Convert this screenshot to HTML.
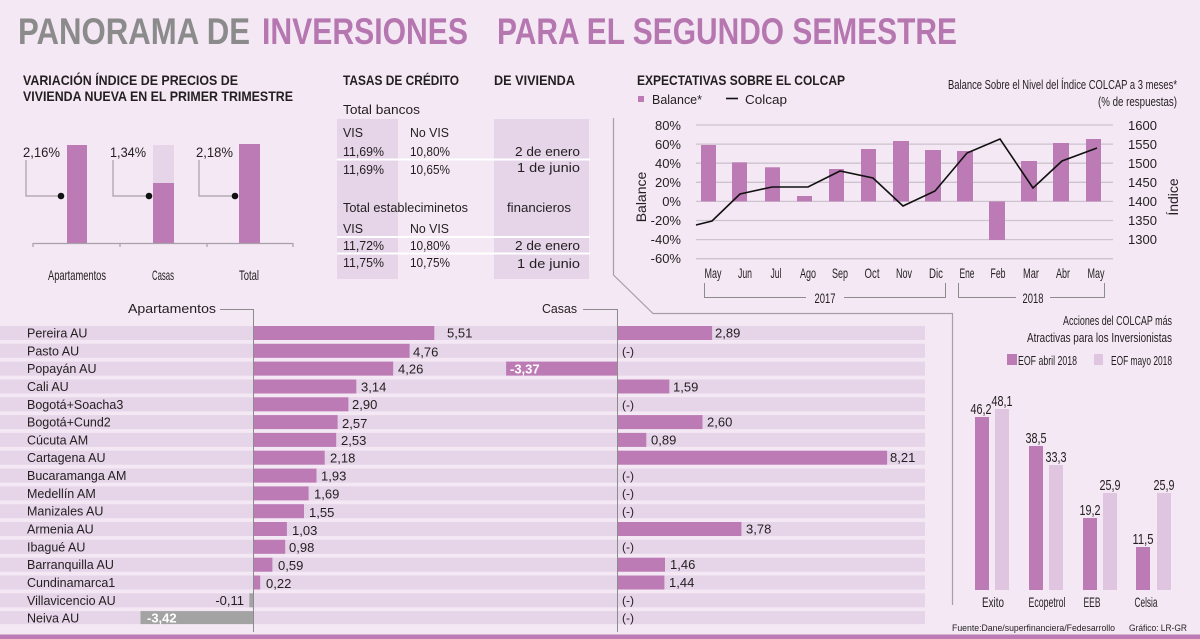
<!DOCTYPE html>
<html lang="es">
<head>
<meta charset="utf-8">
<title>Panorama de inversiones para el segundo semestre</title>
<style>
  html,body{margin:0;padding:0;background:#f3e8f4;}
  svg{display:block;}
  text{font-family:"Liberation Sans",Arial,sans-serif;fill:#231f20;}
  .b{font-weight:bold;}
</style>
</head>
<body>
<svg width="1200" height="639" viewBox="0 0 1200 639" xmlns="http://www.w3.org/2000/svg">
  <rect x="0" y="0" width="1200" height="639" fill="#f3e8f4"/>

  <!-- TITLE -->
  <text x="18" y="44" font-size="37" class="b" style="fill:#8b8b8b" textLength="232" lengthAdjust="spacingAndGlyphs">PANORAMA DE</text>
  <text x="262" y="44" font-size="37" class="b" style="fill:#b677b1" textLength="206" lengthAdjust="spacingAndGlyphs">INVERSIONES</text>
  <text x="497" y="44" font-size="37" class="b" style="fill:#b677b1" textLength="460" lengthAdjust="spacingAndGlyphs">PARA EL SEGUNDO SEMESTRE</text>

  <!-- SECTION 1: Variación índice -->
  <text x="23" y="85" font-size="14" class="b" textLength="215" lengthAdjust="spacingAndGlyphs">VARIACIÓN ÍNDICE DE PRECIOS DE</text>
  <text x="23" y="101" font-size="14" class="b" textLength="270" lengthAdjust="spacingAndGlyphs">VIVIENDA NUEVA EN EL PRIMER TRIMESTRE</text>

  <rect x="67" y="145" width="20" height="99" fill="#bc7bb5"/>
  <rect x="153" y="145" width="21" height="99" fill="#e6d4e8"/>
  <rect x="153" y="183" width="21" height="61" fill="#bc7bb5"/>
  <rect x="239" y="144" width="21" height="100" fill="#bc7bb5"/>
  <g stroke="#a8a0a8" stroke-width="1.2" fill="none">
    <path d="M33,243.5 H293"/>
    <path d="M33,243 V247 M120,243 V247 M207,243 V247 M293,243 V247"/>
    <path d="M26,160 V196 H61"/>
    <path d="M113,160 V196 H149"/>
    <path d="M199,160 V196 H235"/>
  </g>
  <circle cx="61" cy="196" r="3.3" fill="#111"/>
  <circle cx="149" cy="196" r="3.3" fill="#111"/>
  <circle cx="235" cy="196" r="3.3" fill="#111"/>
  <text x="23" y="157" font-size="14" textLength="37" lengthAdjust="spacingAndGlyphs">2,16%</text>
  <text x="110" y="157" font-size="14" textLength="36" lengthAdjust="spacingAndGlyphs">1,34%</text>
  <text x="196" y="157" font-size="14" textLength="37" lengthAdjust="spacingAndGlyphs">2,18%</text>
  <text x="48" y="280" font-size="14" textLength="58" lengthAdjust="spacingAndGlyphs">Apartamentos</text>
  <text x="152" y="280" font-size="14" textLength="22" lengthAdjust="spacingAndGlyphs">Casas</text>
  <text x="239" y="280" font-size="14" textLength="20" lengthAdjust="spacingAndGlyphs">Total</text>

  <!-- SECTION 2: Tasas de crédito -->
  <text x="343" y="85" font-size="14" class="b" textLength="116" lengthAdjust="spacingAndGlyphs">TASAS DE CRÉDITO</text>
  <text x="494" y="85" font-size="14" class="b" textLength="81" lengthAdjust="spacingAndGlyphs">DE VIVIENDA</text>
  <text x="343" y="114" font-size="13" textLength="77" lengthAdjust="spacingAndGlyphs">Total bancos</text>
  <rect x="337" y="119" width="61" height="160" fill="#e6d4e8"/>
  <rect x="494" y="119" width="95" height="160" fill="#e6d4e8"/>
  <g font-size="13">
    <text x="343" y="137" textLength="20" lengthAdjust="spacingAndGlyphs">VIS</text>
    <text x="410" y="137" textLength="39" lengthAdjust="spacingAndGlyphs">No VIS</text>
    <text x="343" y="156" textLength="41" lengthAdjust="spacingAndGlyphs">11,69%</text>
    <text x="410" y="156" textLength="40" lengthAdjust="spacingAndGlyphs">10,80%</text>
    <text x="515" y="156" textLength="65" lengthAdjust="spacingAndGlyphs">2 de enero</text>
    <text x="343" y="174" textLength="41" lengthAdjust="spacingAndGlyphs">11,69%</text>
    <text x="410" y="174" textLength="40" lengthAdjust="spacingAndGlyphs">10,65%</text>
    <text x="517" y="172" textLength="63" lengthAdjust="spacingAndGlyphs">1 de junio</text>
    <text x="343" y="212" textLength="125" lengthAdjust="spacingAndGlyphs">Total estableciminetos</text>
    <text x="507" y="212" textLength="64" lengthAdjust="spacingAndGlyphs">financieros</text>
    <text x="343" y="233" textLength="20" lengthAdjust="spacingAndGlyphs">VIS</text>
    <text x="410" y="233" textLength="39" lengthAdjust="spacingAndGlyphs">No VIS</text>
    <text x="343" y="250" textLength="41" lengthAdjust="spacingAndGlyphs">11,72%</text>
    <text x="410" y="250" textLength="40" lengthAdjust="spacingAndGlyphs">10,80%</text>
    <text x="515" y="250" textLength="65" lengthAdjust="spacingAndGlyphs">2 de enero</text>
    <text x="343" y="267" textLength="41" lengthAdjust="spacingAndGlyphs">11,75%</text>
    <text x="410" y="267" textLength="40" lengthAdjust="spacingAndGlyphs">10,75%</text>
    <text x="517" y="268" textLength="63" lengthAdjust="spacingAndGlyphs">1 de junio</text>
  </g>
  <g stroke="#ffffff" stroke-width="2">
    <path d="M337,159.5 H590"/>
    <path d="M337,237 H590"/>
    <path d="M337,253.5 H590"/>
  </g>

  <!-- SECTION 3: COLCAP -->
  <text x="637" y="85" font-size="14" class="b" textLength="208" lengthAdjust="spacingAndGlyphs">EXPECTATIVAS SOBRE EL COLCAP</text>
  <rect x="638" y="96" width="6" height="6" fill="#bc7bb5"/>
  <text x="652" y="104" font-size="13" textLength="50" lengthAdjust="spacingAndGlyphs">Balance*</text>
  <path d="M726,98.5 H738" stroke="#111" stroke-width="1.6"/>
  <text x="745" y="104" font-size="13" textLength="42" lengthAdjust="spacingAndGlyphs">Colcap</text>
  <text x="948" y="89" font-size="13" textLength="229" lengthAdjust="spacingAndGlyphs">Balance Sobre el Nivel del Índice COLCAP a 3 meses*</text>
  <text x="1098" y="106" font-size="13" textLength="79" lengthAdjust="spacingAndGlyphs">(% de respuestas)</text>

  <!-- gridlines -->
  <g stroke="#cdc3ce" stroke-width="1.3">
    <path d="M696,125 H1113"/>
    <path d="M696,144.1 H1113"/>
    <path d="M696,163.2 H1113"/>
    <path d="M696,182.3 H1113"/>
    <path d="M696,201.4 H1113"/>
    <path d="M696,220.5 H1113"/>
    <path d="M696,239.6 H1113"/>
    <path d="M696,258.7 H1113"/>
  </g>
  <g font-size="13" text-anchor="end">
    <text x="681" y="130">80%</text>
    <text x="681" y="149">60%</text>
    <text x="681" y="168">40%</text>
    <text x="681" y="187">20%</text>
    <text x="681" y="206">0%</text>
    <text x="681" y="225">-20%</text>
    <text x="681" y="244">-40%</text>
    <text x="681" y="263">-60%</text>
  </g>
  <g font-size="13">
    <text x="1128" y="130">1600</text>
    <text x="1128" y="149">1550</text>
    <text x="1128" y="168">1500</text>
    <text x="1128" y="187">1450</text>
    <text x="1128" y="206">1400</text>
    <text x="1128" y="225">1350</text>
    <text x="1128" y="244">1300</text>
  </g>
  <text transform="translate(646,197) rotate(-90)" font-size="14" text-anchor="middle">Balance</text>
  <text transform="translate(1178,197) rotate(-90)" font-size="14" text-anchor="middle">Índice</text>

  <!-- balance bars -->
  <g fill="#bc7bb5">
    <rect x="701" y="145" width="15" height="56.4"/>
    <rect x="732" y="162.3" width="15" height="39.1"/>
    <rect x="765" y="167.3" width="15" height="34.1"/>
    <rect x="797" y="196" width="15" height="5.4"/>
    <rect x="829" y="169" width="15" height="32.4"/>
    <rect x="861" y="149" width="15" height="52.4"/>
    <rect x="893" y="141" width="16" height="60.4"/>
    <rect x="925" y="150" width="16" height="51.4"/>
    <rect x="957" y="151" width="16" height="50.4"/>
    <rect x="989" y="201.4" width="16" height="38.6"/>
    <rect x="1021" y="161" width="16" height="40.4"/>
    <rect x="1053" y="143" width="16" height="58.4"/>
    <rect x="1086" y="139" width="15" height="62.4"/>
  </g>
  <!-- colcap line -->
  <polyline points="696,225 712,221 740,194 772,187 808,187 840,171 873,178 903,206 935,191 967,153 1000,139 1033,188 1062,161 1097,148" fill="none" stroke="#111" stroke-width="1.6" stroke-linejoin="miter"/>

  <!-- month labels -->
  <g font-size="14" text-anchor="middle">
    <text x="713" y="278" textLength="17" lengthAdjust="spacingAndGlyphs">May</text>
    <text x="745" y="278" textLength="14" lengthAdjust="spacingAndGlyphs">Jun</text>
    <text x="776" y="278" textLength="11" lengthAdjust="spacingAndGlyphs">Jul</text>
    <text x="808" y="278" textLength="16" lengthAdjust="spacingAndGlyphs">Ago</text>
    <text x="840" y="278" textLength="16" lengthAdjust="spacingAndGlyphs">Sep</text>
    <text x="872" y="278" textLength="15" lengthAdjust="spacingAndGlyphs">Oct</text>
    <text x="904" y="278" textLength="16" lengthAdjust="spacingAndGlyphs">Nov</text>
    <text x="936" y="278" textLength="14" lengthAdjust="spacingAndGlyphs">Dic</text>
    <text x="967" y="278" textLength="15" lengthAdjust="spacingAndGlyphs">Ene</text>
    <text x="998" y="278" textLength="15" lengthAdjust="spacingAndGlyphs">Feb</text>
    <text x="1031" y="278" textLength="16" lengthAdjust="spacingAndGlyphs">Mar</text>
    <text x="1063" y="278" textLength="14" lengthAdjust="spacingAndGlyphs">Abr</text>
    <text x="1096" y="278" textLength="17" lengthAdjust="spacingAndGlyphs">May</text>
  </g>
  <g stroke="#8c8c8c" stroke-width="1" fill="none">
    <path d="M704.5,283 V297.5 H806 M844,297.5 H945.5 V283"/>
    <path d="M958.5,283 V297.5 H1016 M1050,297.5 H1104.5 V283"/>
  </g>
  <text x="825" y="303" font-size="14" text-anchor="middle" textLength="21" lengthAdjust="spacingAndGlyphs">2017</text>
  <text x="1033" y="303" font-size="14" text-anchor="middle" textLength="21" lengthAdjust="spacingAndGlyphs">2018</text>

  <!-- frame line -->
  <path d="M613.5,118 V275 L653,313.5 H952.5 V605" fill="none" stroke="#a6a0a6" stroke-width="1.2"/>

  <!-- SECTION 4: city bars -->
  <g fill="#e6d4e8">
    <rect x="0" y="326" width="925" height="14"/>
    <rect x="0" y="343.8" width="925" height="14"/>
    <rect x="0" y="361.6" width="925" height="14"/>
    <rect x="0" y="379.5" width="925" height="14"/>
    <rect x="0" y="397.3" width="925" height="14"/>
    <rect x="0" y="415.1" width="925" height="14"/>
    <rect x="0" y="432.9" width="925" height="14"/>
    <rect x="0" y="450.7" width="925" height="14"/>
    <rect x="0" y="468.6" width="925" height="14"/>
    <rect x="0" y="486.4" width="925" height="14"/>
    <rect x="0" y="504.2" width="925" height="14"/>
    <rect x="0" y="522" width="925" height="14"/>
    <rect x="0" y="539.8" width="925" height="14"/>
    <rect x="0" y="557.7" width="925" height="14"/>
    <rect x="0" y="575.5" width="925" height="14"/>
    <rect x="0" y="593.3" width="925" height="14"/>
    <rect x="0" y="611.1" width="925" height="13"/>
  </g>
  <!-- apartamentos bars -->
  <g fill="#bc7bb5">
    <rect x="253" y="326" width="181.3" height="14"/>
    <rect x="253" y="343.8" width="156.6" height="14"/>
    <rect x="253" y="361.6" width="140.2" height="14"/>
    <rect x="253" y="379.5" width="103.3" height="14"/>
    <rect x="253" y="397.3" width="95.4" height="14"/>
    <rect x="253" y="415.1" width="84.6" height="14"/>
    <rect x="253" y="432.9" width="83.2" height="14"/>
    <rect x="253" y="450.7" width="71.7" height="14"/>
    <rect x="253" y="468.6" width="63.5" height="14"/>
    <rect x="253" y="486.4" width="55.6" height="14"/>
    <rect x="253" y="504.2" width="51" height="14"/>
    <rect x="253" y="522" width="33.9" height="14"/>
    <rect x="253" y="539.8" width="32.2" height="14"/>
    <rect x="253" y="557.7" width="19.4" height="14"/>
    <rect x="253" y="575.5" width="7.2" height="14"/>
  </g>
  <g fill="#a3a3a3">
    <rect x="249.4" y="593.3" width="3.6" height="14"/>
    <rect x="140.5" y="611.1" width="112.5" height="13"/>
  </g>
  <!-- casas bars -->
  <g fill="#bc7bb5">
    <rect x="617" y="326" width="95.1" height="14"/>
    <rect x="506.1" y="361.6" width="110.9" height="14"/>
    <rect x="617" y="379.5" width="52.3" height="14"/>
    <rect x="617" y="415.1" width="85.5" height="14"/>
    <rect x="617" y="432.9" width="29.3" height="14"/>
    <rect x="617" y="450.7" width="270.1" height="14"/>
    <rect x="617" y="522" width="124.4" height="14"/>
    <rect x="617" y="557.7" width="48" height="14"/>
    <rect x="617" y="575.5" width="47.4" height="14"/>
  </g>

  <!-- axes -->
  <g stroke="#8c8c8c" stroke-width="1" fill="none">
    <path d="M220,309.5 H253.5 V632"/>
    <path d="M583,309.5 H617.5 V632"/>
  </g>
  <text x="128" y="313" font-size="13" textLength="88" lengthAdjust="spacingAndGlyphs">Apartamentos</text>
  <text x="542" y="313" font-size="13" textLength="35" lengthAdjust="spacingAndGlyphs">Casas</text>

  <!-- city labels -->
  <g font-size="12.5">
    <text x="27" y="337.5">Pereira AU</text>
    <text x="27" y="355.3">Pasto AU</text>
    <text x="27" y="373.1">Popayán AU</text>
    <text x="27" y="391">Cali AU</text>
    <text x="27" y="408.8">Bogotá+Soacha3</text>
    <text x="27" y="426.6">Bogotá+Cund2</text>
    <text x="27" y="444.4">Cúcuta AM</text>
    <text x="27" y="462.2">Cartagena AU</text>
    <text x="27" y="480.1">Bucaramanga AM</text>
    <text x="27" y="497.9">Medellín AM</text>
    <text x="27" y="515.7">Manizales AU</text>
    <text x="27" y="533.5">Armenia AU</text>
    <text x="27" y="551.3">Ibagué AU</text>
    <text x="27" y="569.2">Barranquilla AU</text>
    <text x="27" y="587">Cundinamarca1</text>
    <text x="27" y="604.8">Villavicencio AU</text>
    <text x="27" y="622.3">Neiva AU</text>
  </g>
  <!-- apartamentos values -->
  <g font-size="13">
    <text x="447" y="337.5">5,51</text>
    <text x="413" y="356.5">4,76</text>
    <text x="398" y="373.5">4,26</text>
    <text x="361" y="391.5">3,14</text>
    <text x="352" y="409">2,90</text>
    <text x="342" y="428">2,57</text>
    <text x="341" y="445">2,53</text>
    <text x="330" y="462.5">2,18</text>
    <text x="321" y="480.5">1,93</text>
    <text x="314" y="498.5">1,69</text>
    <text x="309" y="517">1,55</text>
    <text x="292" y="535">1,03</text>
    <text x="289" y="552">0,98</text>
    <text x="278" y="570">0,59</text>
    <text x="266" y="588">0,22</text>
    <text x="244" y="605" text-anchor="end">-0,11</text>
    <text x="147" y="622.5" class="b" style="fill:#ffffff">-3,42</text>
  </g>
  <!-- casas values -->
  <g font-size="13">
    <text x="715" y="337.5">2,89</text>
    <text x="622" y="355.5" font-size="12">(-)</text>
    <text x="510" y="373.5" class="b" style="fill:#ffffff">-3,37</text>
    <text x="673" y="391.5">1,59</text>
    <text x="622" y="409" font-size="12">(-)</text>
    <text x="707" y="426.6">2,60</text>
    <text x="651" y="444.4">0,89</text>
    <text x="890" y="462.2">8,21</text>
    <text x="622" y="480" font-size="12">(-)</text>
    <text x="622" y="497.5" font-size="12">(-)</text>
    <text x="622" y="515.5" font-size="12">(-)</text>
    <text x="746" y="533.5">3,78</text>
    <text x="622" y="551" font-size="12">(-)</text>
    <text x="670" y="569.2">1,46</text>
    <text x="669" y="587">1,44</text>
    <text x="622" y="604.5" font-size="12">(-)</text>
    <text x="622" y="622" font-size="12">(-)</text>
  </g>

  <!-- SECTION 5: acciones COLCAP -->
  <text x="1063" y="325" font-size="13" textLength="109" lengthAdjust="spacingAndGlyphs">Acciones del COLCAP más</text>
  <text x="1027" y="342" font-size="13" textLength="145" lengthAdjust="spacingAndGlyphs">Atractivas para los Inversionistas</text>
  <rect x="1007" y="354" width="10" height="11" fill="#bc7bb5"/>
  <text x="1018" y="365" font-size="13" textLength="59" lengthAdjust="spacingAndGlyphs">EOF abril 2018</text>
  <rect x="1094" y="354" width="9" height="11" fill="#e0c5e0"/>
  <text x="1111" y="365" font-size="13" textLength="61" lengthAdjust="spacingAndGlyphs">EOF mayo 2018</text>

  <g fill="#bc7bb5">
    <rect x="975" y="417" width="14" height="173"/>
    <rect x="1029" y="446" width="14" height="144"/>
    <rect x="1083" y="518" width="14" height="72"/>
    <rect x="1136" y="547" width="14" height="43"/>
  </g>
  <g fill="#e0c5e0">
    <rect x="995" y="409" width="14" height="181"/>
    <rect x="1049" y="465" width="14" height="125"/>
    <rect x="1103" y="493" width="14" height="97"/>
    <rect x="1157" y="493" width="14" height="97"/>
  </g>
  <g font-size="15" text-anchor="middle">
    <text x="981" y="414" textLength="21" lengthAdjust="spacingAndGlyphs">46,2</text>
    <text x="1002" y="406" textLength="21" lengthAdjust="spacingAndGlyphs">48,1</text>
    <text x="1036" y="443" textLength="21" lengthAdjust="spacingAndGlyphs">38,5</text>
    <text x="1056" y="462" textLength="21" lengthAdjust="spacingAndGlyphs">33,3</text>
    <text x="1090" y="515" textLength="21" lengthAdjust="spacingAndGlyphs">19,2</text>
    <text x="1110" y="490" textLength="21" lengthAdjust="spacingAndGlyphs">25,9</text>
    <text x="1143" y="544" textLength="21" lengthAdjust="spacingAndGlyphs">11,5</text>
    <text x="1164" y="490" textLength="21" lengthAdjust="spacingAndGlyphs">25,9</text>
  </g>
  <g font-size="14" text-anchor="middle">
    <text x="993" y="607" textLength="22" lengthAdjust="spacingAndGlyphs">Exito</text>
    <text x="1047" y="607" textLength="37" lengthAdjust="spacingAndGlyphs">Ecopetrol</text>
    <text x="1092" y="607" textLength="17" lengthAdjust="spacingAndGlyphs">EEB</text>
    <text x="1146" y="607" textLength="23" lengthAdjust="spacingAndGlyphs">Celsia</text>
  </g>

  <!-- footer -->
  <text x="952" y="631" font-size="9.5" textLength="163" lengthAdjust="spacingAndGlyphs">Fuente:Dane/superfinanciera/Fedesarrollo</text>
  <text x="1129" y="631" font-size="9.5" textLength="58" lengthAdjust="spacingAndGlyphs">Gráfico: LR-GR</text>
  <rect x="0" y="634.5" width="1200" height="4.5" fill="#bc7bb5"/>
</svg>
</body>
</html>
